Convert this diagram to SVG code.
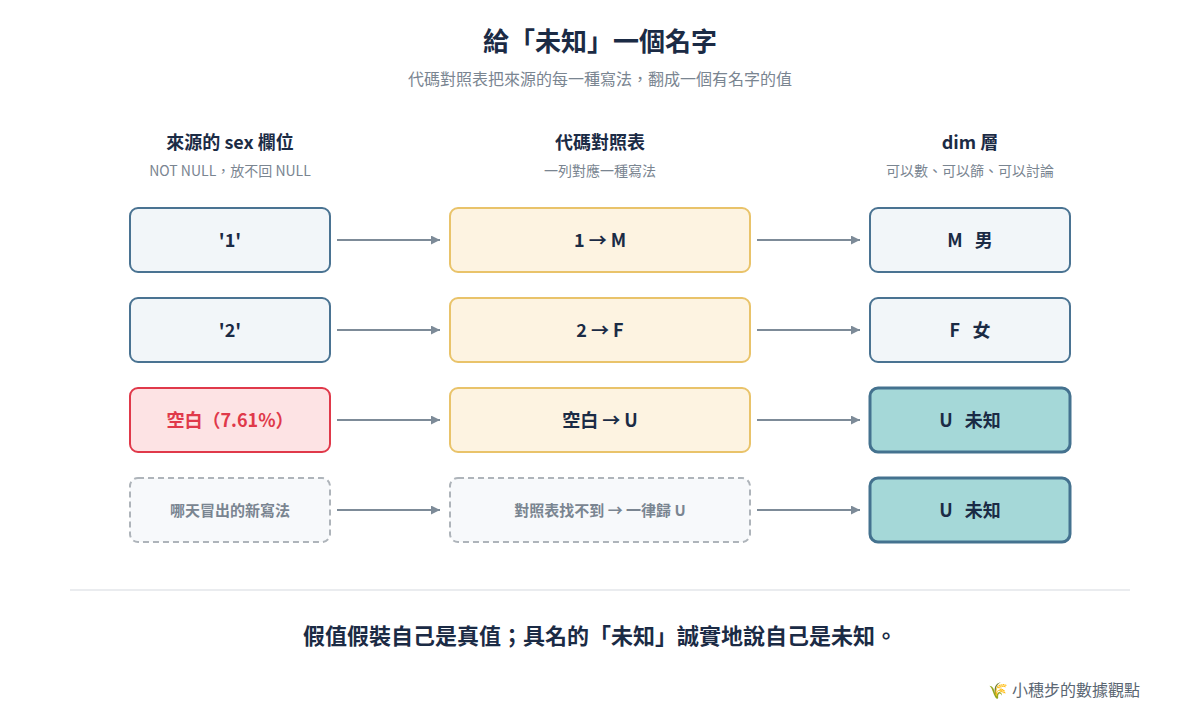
<svg xmlns="http://www.w3.org/2000/svg" width="1200" height="720" viewBox="0 0 1200 720">
<style>
text{font-family:"Noto Sans CJK TC","Noto Sans",sans-serif;text-anchor:middle;}
.t{font-size:26px;font-weight:700;fill:#1b2b45}
.sub{font-size:16px;fill:#7a8591}
.h{font-size:18px;font-weight:700;fill:#1b2b45}
.hs{font-size:14px;fill:#7a8591}
.l{font-size:18px;font-weight:700;fill:#1b2b45}
.s{fill:#f2f6f9;stroke:#4a7392;stroke-width:2}
.m{fill:#fdf3e1;stroke:#e9c36a;stroke-width:2}
.r{fill:#fde3e4;stroke:#e0394a;stroke-width:2}
.g{fill:#f7f9fb;stroke:#aeb4ba;stroke-width:2;stroke-dasharray:6 4}
.u{fill:#a5d8d8;stroke:#44728f;stroke-width:3}
.c{stroke:#7d8b98;stroke-width:2;fill:none;marker-end:url(#a)}
</style>
<defs><marker id="a" viewBox="0 0 10 10" refX="10" refY="5" markerWidth="9" markerHeight="9" markerUnits="userSpaceOnUse" orient="auto"><path d="M0 0L10 5L0 10z" fill="#7d8b98"/></marker></defs>
<rect width="1200" height="720" fill="#fff"/>
<text x="600" y="51" class="t">給「未知」一個名字</text>
<text x="600" y="85" class="sub">代碼對照表把來源的每一種寫法，翻成一個有名字的值</text>
<text x="230" y="149" class="h">來源的 sex 欄位</text>
<text x="230" y="176" class="hs">NOT NULL，放不回 NULL</text>
<text x="600" y="149" class="h">代碼對照表</text>
<text x="600" y="176" class="hs">一列對應一種寫法</text>
<text x="970" y="149" class="h">dim 層</text>
<text x="970" y="176" class="hs">可以數、可以篩、可以討論</text>
<g id="connectors">
<path class="c" d="M337 240H440"/><path class="c" d="M757 240H860"/>
<path class="c" d="M337 330H440"/><path class="c" d="M757 330H860"/>
<path class="c" d="M337 420H440"/><path class="c" d="M757 420H860"/>
<path class="c" d="M337 510H440"/><path class="c" d="M757 510H860"/>
</g>
<g id="src1"><rect class="s" x="130" y="208" width="200" height="64" rx="8"/><text x="230" y="247" class="l">'1'</text></g>
<g id="src2"><rect class="s" x="130" y="298" width="200" height="64" rx="8"/><text x="230" y="337" class="l">'2'</text></g>
<g id="src3"><rect class="r" x="130" y="388" width="200" height="64" rx="8"/><text x="230" y="427" class="l" style="fill:#e0394a">空白（7.61%）</text></g>
<g id="src4"><rect class="g" x="130" y="478" width="200" height="64" rx="8"/><text x="230" y="516" class="l" style="font-size:15px;fill:#7a8591">哪天冒出的新寫法</text></g>
<g id="map1"><rect class="m" x="450" y="208" width="300" height="64" rx="8"/><text x="600" y="247" class="l">1 → M</text></g>
<g id="map2"><rect class="m" x="450" y="298" width="300" height="64" rx="8"/><text x="600" y="337" class="l">2 → F</text></g>
<g id="map3"><rect class="m" x="450" y="388" width="300" height="64" rx="8"/><text x="600" y="427" class="l">空白 → U</text></g>
<g id="map4"><rect class="g" x="450" y="478" width="300" height="64" rx="8"/><text x="600" y="516" class="l" style="font-size:15px;fill:#7a8591">對照表找不到 → 一律歸 U</text></g>
<g id="dim1"><rect class="s" x="870" y="208" width="200" height="64" rx="8"/><text x="970" y="247" class="l" xml:space="preserve">M   男</text></g>
<g id="dim2"><rect class="s" x="870" y="298" width="200" height="64" rx="8"/><text x="970" y="337" class="l" xml:space="preserve">F   女</text></g>
<g id="dim3"><rect class="u" x="870" y="388" width="200" height="64" rx="8"/><text x="970" y="427" class="l" xml:space="preserve">U   未知</text></g>
<g id="dim4"><rect class="u" x="870" y="478" width="200" height="64" rx="8"/><text x="970" y="517" class="l" xml:space="preserve">U   未知</text></g>
<line x1="70" y1="590" x2="1130" y2="590" stroke="#e3e6ea" stroke-width="1.5"/>
<text x="600" y="644" style="font-size:22px;font-weight:700;fill:#1b2b45">假值假裝自己是真值；具名的「未知」誠實地說自己是未知。</text>
<text x="1140" y="696" style="font-size:16px;fill:#5a6672;text-anchor:end">🌾 小穗步的數據觀點</text>
</svg>
